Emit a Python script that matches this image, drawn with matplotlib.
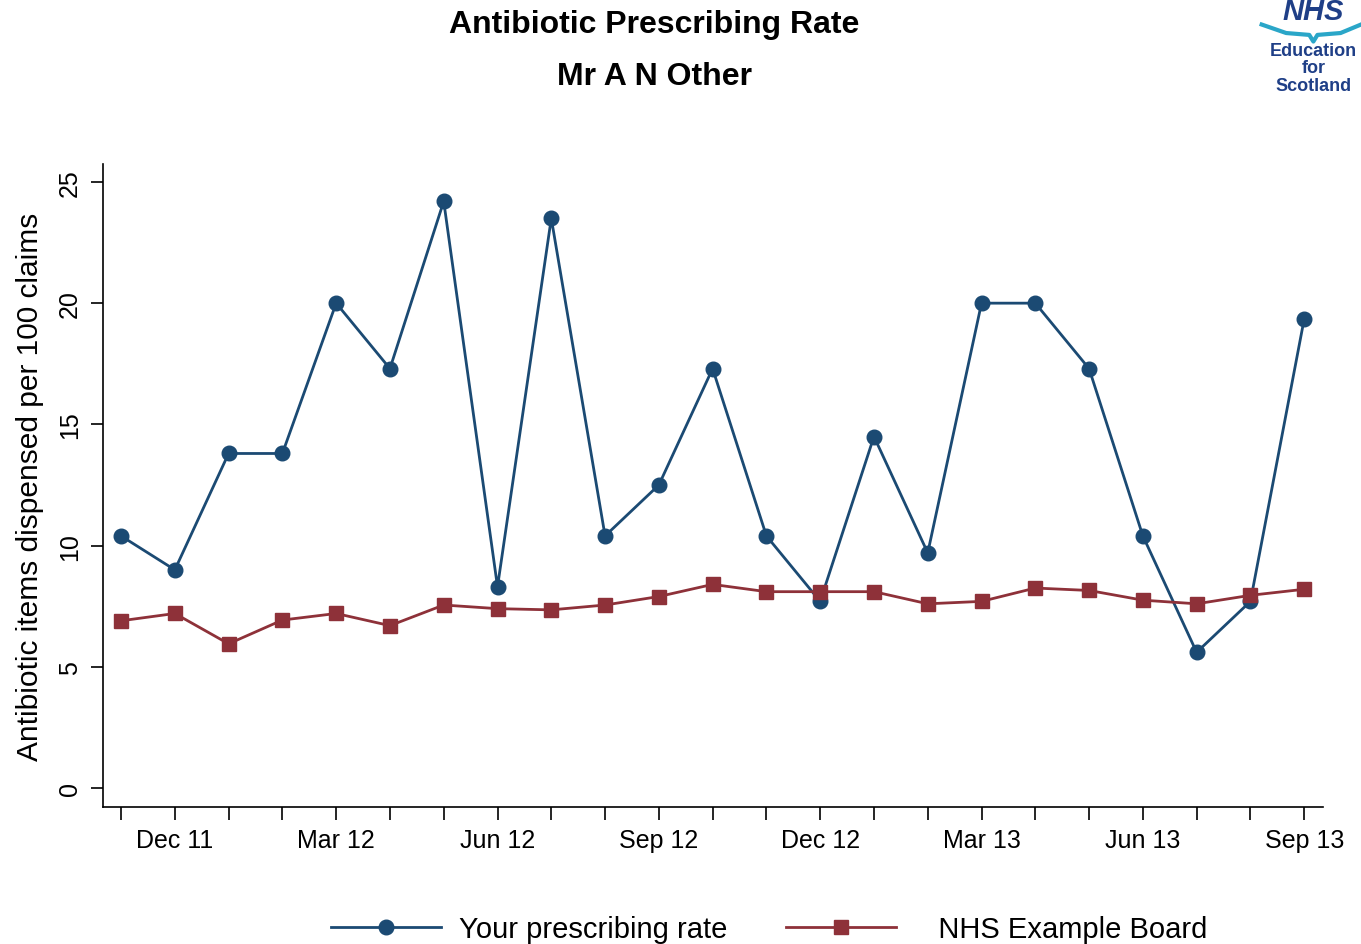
import matplotlib.pyplot as plt
import numpy as np

plt.rcParams['font.family'] = ['Liberation Sans', 'DejaVu Sans']

# --- Dados ---
months = ['Nov 11', 'Dec 11', 'Jan 12', 'Feb 12', 'Mar 12', 'Apr 12', 'May 12',
          'Jun 12', 'Jul 12', 'Aug 12', 'Sep 12', 'Oct 12', 'Nov 12', 'Dec 12',
          'Jan 13', 'Feb 13', 'Mar 13', 'Apr 13', 'May 13', 'Jun 13', 'Jul 13',
          'Aug 13', 'Sep 13']
your_rate = [10.4, 9.0, 13.8, 13.8, 20.0, 17.3, 24.2, 8.3, 23.5, 10.4, 12.5,
             17.3, 10.4, 7.7, 14.5, 9.7, 20.0, 20.0, 17.3, 10.4, 5.6, 7.7, 19.35]
board_rate = [6.9, 7.2, 5.95, 6.93, 7.2, 6.7, 7.55, 7.4, 7.35, 7.55, 7.9, 8.4,
              8.1, 8.1, 8.1, 7.6, 7.7, 8.25, 8.15, 7.75, 7.6, 7.95, 8.2]
labelled = ['Dec 11', 'Mar 12', 'Jun 12', 'Sep 12', 'Dec 12', 'Mar 13', 'Jun 13', 'Sep 13']

blue = '#1B4A73'
red = '#8E3139'

fig = plt.figure(figsize=(13.61, 9.45), dpi=100)
ax = fig.add_axes([0.0757, 0.1450, 0.8964, 0.6804])

x = np.arange(len(months))
ax.plot(x, your_rate, color=blue, lw=2.0, marker='o', ms=10.5, label='Your prescribing rate')
ax.plot(x, board_rate, color=red, lw=2.0, marker='s', ms=10.5, label='   NHS Example Board')

ax.set_xlim(-0.335, 22.35)
ax.set_ylim(-0.78, 25.74)
ax.set_xticks(x)
ax.set_xticklabels([m if m in labelled else '' for m in months], fontsize=18)
ax.set_yticks([0, 5, 10, 15, 20, 25])
ax.set_yticklabels(['0', '5', '10', '15', '20', '25'], fontsize=18, rotation=90, va='center')
ax.tick_params(axis='both', direction='out', length=9, width=1.2, color='black')
ax.tick_params(axis='x', pad=6)
ax.tick_params(axis='y', pad=6)
ax.set_ylabel('Antibiotic items dispensed per 100 claims', fontsize=21.5, labelpad=10)

for s in ['top', 'right']:
    ax.spines[s].set_visible(False)
for s in ['left', 'bottom']:
    ax.spines[s].set_linewidth(1.2)

fig.text(0.481, 0.974, 'Antibiotic Prescribing Rate', ha='center', va='center',
         fontsize=23, fontweight='bold')
fig.text(0.481, 0.919, 'Mr A N Other', ha='center', va='center',
         fontsize=23, fontweight='bold')

# logo NHS Education for Scotland
logo_blue = '#1F3F87'
fig.text(0.965, 0.987, 'NHS', ha='center', va='center', fontsize=21,
         fontweight='bold', color=logo_blue, fontstyle='italic')
wave_x = np.array([0.927, 0.945, 0.962, 0.965, 0.968, 0.985, 1.0])
wave_y = np.array([0.973, 0.964, 0.962, 0.955, 0.962, 0.964, 0.973])
fig.add_artist(plt.Line2D(wave_x, wave_y, color='#2AA6C8', lw=3, transform=fig.transFigure))
fig.text(0.965, 0.946, 'Education', ha='center', va='center', fontsize=13,
         fontweight='bold', color=logo_blue)
fig.text(0.965, 0.927, 'for', ha='center', va='center', fontsize=13,
         fontweight='bold', color=logo_blue)
fig.text(0.965, 0.908, 'Scotland', ha='center', va='center', fontsize=13,
         fontweight='bold', color=logo_blue)

fig.legend(loc='center', bbox_to_anchor=(0.565, 0.016), ncol=2, frameon=False,
           fontsize=21, handlelength=3.8, columnspacing=2.0, handletextpad=0.6)

fig.savefig('out.png', dpi=100)
